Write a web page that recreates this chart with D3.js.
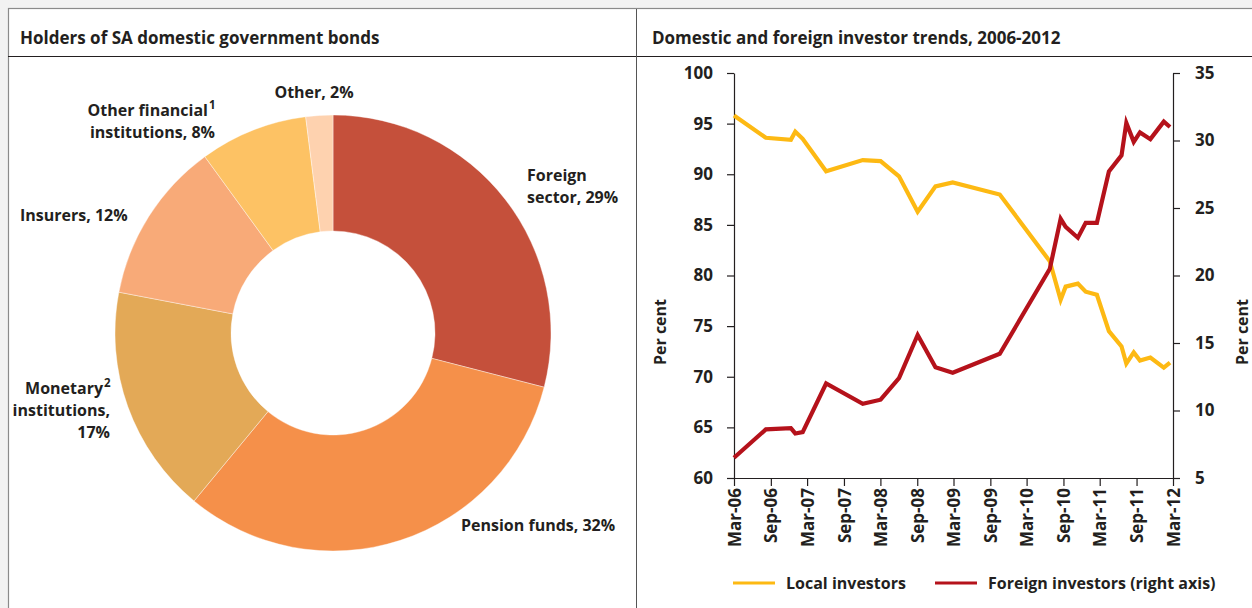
<!DOCTYPE html>
<html>
<head>
<meta charset="utf-8">
<script src="https://cdn.jsdelivr.net/npm/d3@7"></script>
<style>
  html, body { margin: 0; padding: 0; background: #ffffff; }
  svg { display: block; }
  text { font-family: "Open Sans", "Noto Sans", sans-serif; fill: #231f20; }
</style>
</head>
<body>
<svg id="chart" width="1252" height="608"></svg>
<script>
// ---- Holders of SA domestic government bonds (per cent of total) ----
const holderNames = ["Foreign sector", "Pension funds", "Monetary institutions", "Insurers", "Other financial institutions", "Other"];
const holderShares = [29, 32, 17, 12, 8, 2];
const holderColors = ["#c5503b", "#f5904a", "#e3a957", "#f8aa78", "#fdc264", "#fed2af"];

// ---- Investor trends, 2006-2012 ----
const trendDates = [
  "2006-03-01", "2006-08-07", "2006-12-10", "2007-01-01", "2007-02-07", "2007-06-04",
  "2007-12-04", "2008-03-02", "2008-06-02", "2008-09-03", "2008-12-01", "2009-02-25",
  "2009-10-18", "2010-06-25", "2010-08-18", "2010-09-12", "2010-11-12", "2010-12-21",
  "2011-02-15", "2011-04-16", "2011-06-18", "2011-07-12", "2011-08-18", "2011-09-18",
  "2011-11-09", "2012-01-15", "2012-02-15"
];
const localInvestors = [
  95.8, 93.6, 93.4, 94.2, 93.5, 90.3,
  91.4, 91.3, 89.8, 86.3, 88.8, 89.2,
  88.0, 81.4, 77.6, 78.9, 79.2, 78.4,
  78.1, 74.5, 73.0, 71.3, 72.4, 71.6,
  71.9, 70.9, 71.4
];
const foreignInvestors = [
  6.5, 8.6, 8.7, 8.3, 8.4, 12.0,
  10.5, 10.8, 12.4, 15.6, 13.2, 12.8,
  14.2, 20.5, 24.2, 23.6, 22.8, 23.9,
  23.9, 27.7, 28.9, 31.3, 29.9, 30.6,
  30.1, 31.4, 31.0
];
const leftTicks = [60, 65, 70, 75, 80, 85, 90, 95, 100];
const rightTicks = [5, 10, 15, 20, 25, 30, 35];
const monthTicks = ["2006-03", "2006-09", "2007-03", "2007-09", "2008-03", "2008-09", "2009-03",
                    "2009-09", "2010-03", "2010-09", "2011-03", "2011-09", "2012-03"];

const svg = d3.select("#chart");
const ink = "#231f20";
const labelSize = 16;
const tickSize = 17;

// ---- Frame: soft grey margin, border, header rule and panel divider ----
svg.append("rect").attr("x", 0).attr("y", 0).attr("width", 1252).attr("height", 608).attr("fill", "#f2f2f2");
svg.append("rect").attr("x", 8.5).attr("y", 8.5).attr("width", 1260).attr("height", 620)
  .attr("fill", "#ffffff").attr("stroke", "#8a8a8a").attr("stroke-width", 1.2);
svg.append("line").attr("x1", 8).attr("x2", 1252).attr("y1", 56.5).attr("y2", 56.5)
  .attr("stroke", ink).attr("stroke-width", 1);
svg.append("line").attr("x1", 636.5).attr("x2", 636.5).attr("y1", 9).attr("y2", 608)
  .attr("stroke", "#555").attr("stroke-width", 1);

svg.append("text").attr("x", 20).attr("y", 44).attr("font-size", 17).attr("font-weight", 700)
  .text("Holders of SA domestic government bonds");
svg.append("text").attr("x", 652).attr("y", 44).attr("font-size", 17).attr("font-weight", 700)
  .text("Domestic and foreign investor trends, 2006-2012");

// ---- Donut chart ----
const pieData = holderNames.map((n, i) => ({ name: n, value: holderShares[i], color: holderColors[i] }));
const pie = d3.pie().value(d => d.value).sort(null);
const arc = d3.arc().innerRadius(102).outerRadius(218);
const donut = svg.append("g").attr("transform", "translate(333,333)");
donut.selectAll("path").data(pie(pieData)).join("path")
  .attr("d", arc).attr("fill", d => d.data.color)
  .attr("stroke", "#ffffff").attr("stroke-width", 0.4);

// Slice labels: lines of text with optional superscript note markers
const pieLabels = [
  { lines: ["Foreign", "sector, " + holderShares[0] + "%"], x: 527, y: 181, anchor: "start" },
  { lines: ["Pension funds, " + holderShares[1] + "%"], x: 461, y: 531, anchor: "start" },
  { lines: ["Monetary", "institutions,", holderShares[2] + "%"], x: 110, y: 394, anchor: "end", sup: "2" },
  { lines: ["Insurers, " + holderShares[3] + "%"], x: 20, y: 221, anchor: "start" },
  { lines: ["Other financial", "institutions, " + holderShares[4] + "%"], x: 215, y: 116, anchor: "end", sup: "1" },
  { lines: ["Other, " + holderShares[5] + "%"], x: 314, y: 98, anchor: "middle" }
];
pieLabels.forEach(l => {
  l.lines.forEach((s, i) => {
    const t = svg.append("text").attr("x", l.x).attr("y", l.y + i * 22)
      .attr("font-size", labelSize).attr("font-weight", 700).attr("text-anchor", l.anchor).text(s);
    if (i === 0 && l.sup) {
      // superscript placed after the right-aligned first line
      t.attr("x", l.x - 7);
      svg.append("text").attr("x", l.x - 6).attr("y", l.y - 7)
        .attr("font-size", 11.5).attr("font-weight", 700).text(l.sup);
    }
  });
});

// ---- Line chart ----
const parse = d3.timeParse("%Y-%m-%d");
const parseMonth = d3.timeParse("%Y-%m");
const dates = trendDates.map(parse);
const x = d3.scaleTime().domain([parseMonth("2006-03"), parseMonth("2012-03")]).range([734, 1173]);
const yL = d3.scaleLinear().domain([60, 100]).range([478, 73]);
const yR = d3.scaleLinear().domain([5, 35]).range([478, 73]);

const axisStyle = g => {
  g.select(".domain").attr("stroke", ink).attr("stroke-width", 1.2);
  g.selectAll(".tick line").attr("stroke", ink).attr("stroke-width", 1.2);
  g.selectAll(".tick text").attr("fill", ink).attr("font-size", tickSize).attr("font-weight", 700)
    .attr("font-family", "'Open Sans', 'Noto Sans', sans-serif");
};

svg.append("g").attr("transform", "translate(734,0)")
  .call(d3.axisLeft(yL).tickValues(leftTicks).tickSize(7).tickPadding(14).tickSizeOuter(0))
  .call(axisStyle);
svg.append("g").attr("transform", "translate(1173,0)")
  .call(d3.axisRight(yR).tickValues(rightTicks).tickSize(7).tickPadding(15).tickSizeOuter(0))
  .call(axisStyle);
const xAxis = svg.append("g").attr("transform", "translate(0,478)")
  .call(d3.axisBottom(x).tickValues(monthTicks.map(parseMonth)).tickFormat(d3.timeFormat("%b-%y"))
    .tickSize(8).tickSizeOuter(0))
  .call(axisStyle);
xAxis.selectAll(".tick text")
  .attr("transform", "rotate(-90)").attr("text-anchor", "end")
  .attr("x", -10).attr("y", 0).attr("dy", "0.36em");

svg.append("text").attr("transform", "translate(666,332) rotate(-90)").attr("text-anchor", "middle")
  .attr("font-size", labelSize).attr("font-weight", 700).text("Per cent");
svg.append("text").attr("transform", "translate(1248,332) rotate(-90)").attr("text-anchor", "middle")
  .attr("font-size", labelSize).attr("font-weight", 700).text("Per cent");

const localLine = d3.line().x((d, i) => x(dates[i])).y(d => yL(d));
const foreignLine = d3.line().x((d, i) => x(dates[i])).y(d => yR(d));
svg.append("path").datum(localInvestors).attr("d", localLine)
  .attr("fill", "none").attr("stroke", "#fdb913").attr("stroke-width", 4.2).attr("stroke-linejoin", "miter");
svg.append("path").datum(foreignInvestors).attr("d", foreignLine)
  .attr("fill", "none").attr("stroke", "#b5121b").attr("stroke-width", 4.2).attr("stroke-linejoin", "miter");

// Legend
const legend = [
  { label: "Local investors", color: "#fdb913", x: 733 },
  { label: "Foreign investors (right axis)", color: "#b5121b", x: 935 }
];
legend.forEach(l => {
  svg.append("line").attr("x1", l.x).attr("x2", l.x + 42).attr("y1", 583).attr("y2", 583)
    .attr("stroke", l.color).attr("stroke-width", 3);
  svg.append("text").attr("x", l.x + 53).attr("y", 589).attr("font-size", labelSize).attr("font-weight", 700)
    .text(l.label);
});
</script>
</body>
</html>
